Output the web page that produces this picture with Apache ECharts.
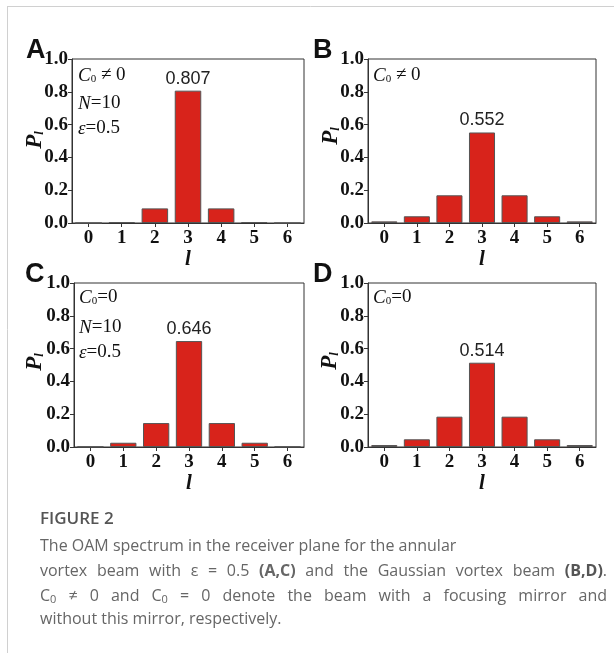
<!DOCTYPE html>
<html>
<head>
<meta charset="utf-8">
<script src="https://cdn.jsdelivr.net/npm/echarts@6/dist/echarts.min.js"></script>
<style>
html,body{margin:0;padding:0;background:#fff;}
#c{width:614px;height:653px;}
</style>
</head>
<body>
<div id="c"></div>
<script>
// ---- data ----
const lCategories = ['0','1','2','3','4','5','6'];
const yTicks = [0.0, 0.2, 0.4, 0.6, 0.8, 1.0];
const panelA = [0.000, 0.006, 0.089, 0.807, 0.089, 0.006, 0.000];
const panelB = [0.010, 0.041, 0.169, 0.552, 0.169, 0.041, 0.010];
const panelC = [0.002, 0.026, 0.146, 0.646, 0.146, 0.026, 0.002];
const panelD = [0.012, 0.047, 0.185, 0.514, 0.185, 0.047, 0.012];
const panelLetters = ['A','B','C','D'];

const SERIF = '"Liberation Serif","Times New Roman",serif';
const SANS = '"Liberation Sans",Arial,sans-serif';
const CAP = '"Open Sans","Noto Sans",sans-serif';

const grids = [
  {left:72, top:59, width:232, height:164},
  {left:368, top:59, width:228, height:164},
  {left:74, top:283, width:230, height:164},
  {left:368, top:283, width:228, height:164}
];
const panels = [panelA, panelB, panelC, panelD];

const xAxes = grids.map((g,i)=>({
  type:'category', gridIndex:i, data:lCategories,
  axisLine:{show:true, lineStyle:{color:'#333', width:1}},
  axisTick:{show:true, alignWithLabel:true, length:4, lineStyle:{color:'#333'}},
  axisLabel:{fontFamily:SERIF, fontWeight:'bold', fontSize:19, color:'#111', margin:6},
  name:'l', nameLocation:'middle', nameGap:24,
  nameTextStyle:{fontFamily:SERIF, fontWeight:'bold', fontStyle:'italic', fontSize:21, color:'#111'}
}));
const yAxes = grids.map((g,i)=>({
  type:'value', gridIndex:i, min:0, max:1, interval:0.2,
  splitLine:{show:false},
  axisLine:{show:true, lineStyle:{color:'#333', width:1}},
  axisTick:{show:true, length:4, lineStyle:{color:'#333'}},
  axisLabel:{fontFamily:SERIF, fontWeight:'bold', fontSize:19, color:'#111', margin:4,
    formatter:v=>v.toFixed(1)}
}));
const series = panels.map((arr,i)=>{
  let peak = arr.indexOf(Math.max(...arr));
  return {
    type:'bar', xAxisIndex:i, yAxisIndex:i, barWidth:'80%',
    itemStyle:{color:'#d8231b', borderColor:'#555', borderWidth:1},
    label:{show:false},
    data: arr.map((v,k)=> k===peak ? {value:v, label:{show:true, position:'top', distance:3,
      fontFamily:SANS, fontSize:18, color:'#222', formatter:p=>p.value.toFixed(3)}} : v)
  };
});

function ann(x,y,text){ return {type:'text', left:x, top:y, style:{text:text, rich:{
  i:{fontFamily:SERIF, fontStyle:'italic', fontSize:19, fill:'#111'},
  s:{fontFamily:SERIF, fontSize:11, fill:'#111', padding:[8,0,0,0]},
  n:{fontFamily:SERIF, fontSize:19, fill:'#111'}
}}};}
function yName(x,y){ return {type:'text', x:x, y:y, rotation:Math.PI/2, style:{
  text:'{p|P}{s|l}', align:'center', verticalAlign:'middle', rich:{
    p:{fontFamily:SERIF, fontWeight:'bold', fontStyle:'italic', fontSize:23, fill:'#111'},
    s:{fontFamily:SERIF, fontWeight:'bold', fontStyle:'italic', fontSize:13, fill:'#111', padding:[10,0,0,0]}
  }}};}

// caption helper: justify words across a line
const mctx = document.createElement('canvas').getContext('2d');
function measure(parts){ let w=0; parts.forEach(p=>{ mctx.font=p.font; w+=mctx.measureText(p.t).width; }); return w; }
function justify(words, x0, x1, top){
  const widths = words.map(measure);
  const total = widths.reduce((a,b)=>a+b,0);
  const gap = (x1-x0-total)/(words.length-1);
  const out=[]; let x=x0;
  words.forEach((parts,wi)=>{
    let px=x;
    parts.forEach(p=>{
      mctx.font=p.font;
      out.push({type:'text', left:px, top:top+(p.sub?6:0), style:{text:p.t, font:p.font, fill:p.fill}});
      px+=mctx.measureText(p.t).width;
    });
    x+=widths[wi]+gap;
  });
  return out;
}
const NF = '16px '+CAP, BF='bold 16px '+CAP, SF='11px '+CAP;
const G='#666';
const w = (t,f)=>[{t:t,font:f||NF,fill:G}];
const line2 = 'vortex beam with ε = 0.5'.split(' ').map(t=>w(t))
  .concat([w('(A,C)',BF)])
  .concat('and the Gaussian vortex beam'.split(' ').map(t=>w(t)))
  .concat([[{t:'(B,D)',font:BF,fill:'#555'},{t:'.',font:NF,fill:G}]]);
const c0 = [{t:'C',font:NF,fill:G},{t:'0',font:SF,fill:G,sub:true}];
const line3 = [c0, w('≠'), w('0'), w('and'), c0, w('='), w('0')]
  .concat('denote the beam with a focusing mirror and'.split(' ').map(t=>w(t)));

const graphics = [
  {type:'line', shape:{x1:7,y1:6.5,x2:614,y2:6.5}, style:{stroke:'#d0d0d0', lineWidth:1}},
  {type:'line', shape:{x1:7.5,y1:6,x2:7.5,y2:653}, style:{stroke:'#d0d0d0', lineWidth:1}},
  {type:'text', left:26, top:37, style:{text:'A', font:'bold 27px '+SANS, fill:'#111'}},
  {type:'text', left:313, top:37, style:{text:'B', font:'bold 27px '+SANS, fill:'#111'}},
  {type:'text', left:25, top:261, style:{text:'C', font:'bold 27px '+SANS, fill:'#111'}},
  {type:'text', left:313, top:261, style:{text:'D', font:'bold 27px '+SANS, fill:'#111'}},
  yName(35,140), yName(331,136), yName(35,362), yName(330,361),
  ann(78,66,'{i|C}{s|0}{n| ≠ 0}'),
  ann(78,94,'{i|N}{n|=10}'),
  ann(78,119,'{i|ε}{n|=0.5}'),
  ann(373,66,'{i|C}{s|0}{n| ≠ 0}'),
  ann(79,288,'{i|C}{s|0}{n|=0}'),
  ann(79,318,'{i|N}{n|=10}'),
  ann(79,343,'{i|ε}{n|=0.5}'),
  ann(373,288,'{i|C}{s|0}{n|=0}'),
  {type:'text', left:40, top:511, style:{text:'FIGURE 2', font:'600 17px '+CAP, fill:'#555'}},
  {type:'text', left:40, top:538, style:{text:'The OAM spectrum in the receiver plane for the annular', font:NF, fill:G}}
].concat(justify(line2, 40, 607, 563))
 .concat(justify(line3, 40, 607, 588))
 .concat([{type:'text', left:40, top:611, style:{text:'without this mirror, respectively.', font:NF, fill:G}}]);

const chart = echarts.init(document.getElementById('c'), null, {renderer:'canvas'});
chart.setOption({
  animation:false,
  backgroundColor:'#fff',
  grid: grids.map(g=>Object.assign({show:true, borderColor:'#333', borderWidth:1, backgroundColor:'transparent'}, g)),
  xAxis:xAxes, yAxis:yAxes, series:series, graphic:graphics
});
</script>
</body>
</html>
